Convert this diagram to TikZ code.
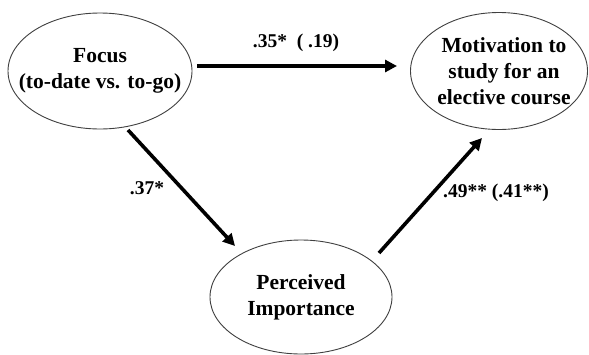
\documentclass[tikz,border=0pt]{standalone}
\usepackage{fontspec}
\setmainfont{Liberation Serif}
\usetikzlibrary{arrows.meta,calc}
\begin{document}
\begin{tikzpicture}[x=1pt,y=-1pt,
  var/.style={inner sep=0pt, align=center,
    font=\fontsize{21.5}{26}\selectfont\bfseries},
  rim/.style={draw=black!75, line width=0.9pt},
  arr/.style={line width=3.6pt, -{Triangle[length=12pt,width=12pt]}},
  coef/.style={font=\fontsize{19.5}{23}\selectfont\bfseries, inner sep=0pt}]
\useasboundingbox (0,0) rectangle (589,354);
\fill[white] (0,0) rectangle (589,354);
\node[var] (focus) at (100,71) {Focus\\(to-date vs. to-go)};
\node[var] (motiv) at (504,71) {Motivation to\\study for an\\elective course};
\node[var] (perc) at (301,297) {Perceived\\Importance};
\draw[rim] (focus.center) ellipse [x radius=92, y radius=58];
\draw[rim] ($(motiv.center)+(-5,0)$) ellipse [x radius=88.5, y radius=58.5];
\draw[rim] (perc.center) ellipse [x radius=91, y radius=57];
\draw[arr] ($(focus.center)+(97,-5)$) -- ($(motiv.center)+(-107,-5)$);
\draw[arr] ($(focus.center)+(28,59)$) -- ($(perc.center)+(-66,-51)$);
\draw[arr] ($(perc.center)+(78,-44)$) -- ($(motiv.center)+(-22,67)$);
\node[coef] (l1) at (296,43) {.35*~~( .19)};
\node[coef] (l2) at (147,188) {.37*};
\node[coef] (l3) at (496,193) {.49** (.41**)};
\end{tikzpicture}
\end{document}
